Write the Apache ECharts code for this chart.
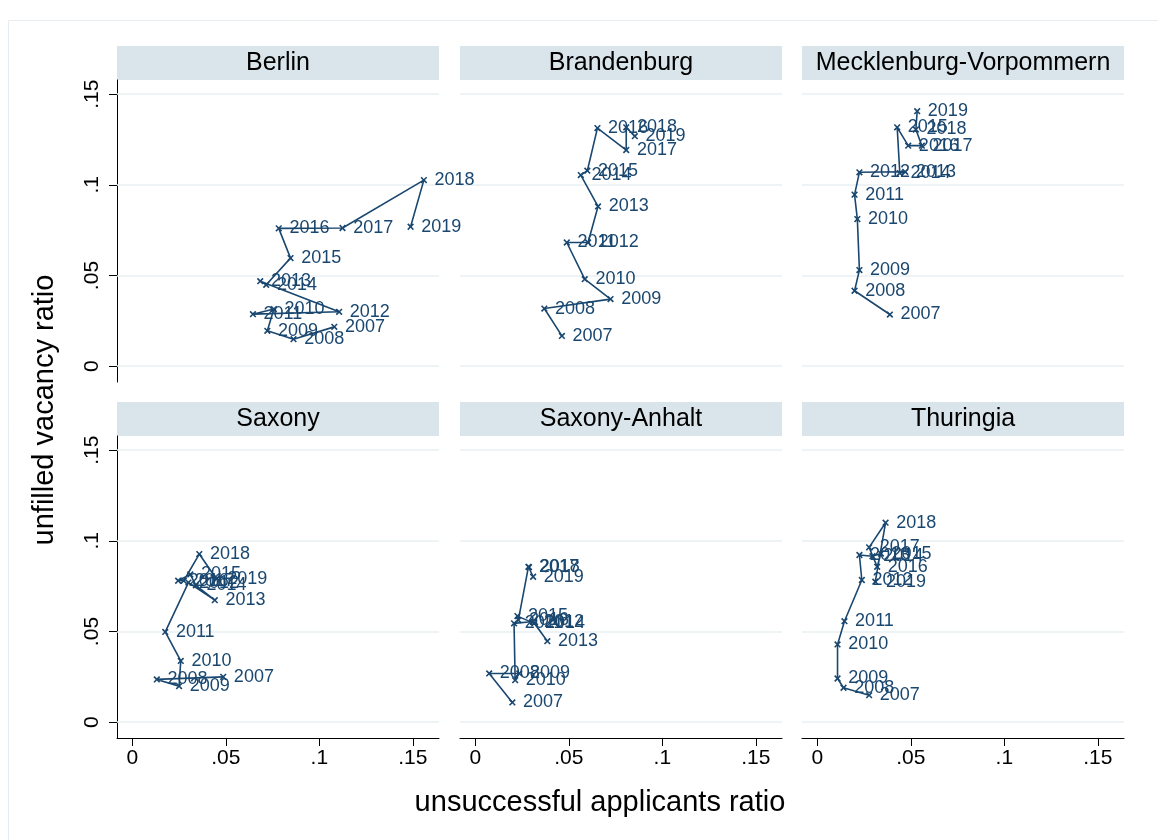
<!DOCTYPE html>
<html>
<head>
<meta charset="utf-8">
<script src="https://cdn.jsdelivr.net/npm/echarts@6/dist/echarts.min.js"></script>
<style>
  html, body { margin: 0; padding: 0; background: #fff; }
  #chart { width: 1158px; height: 840px; }
</style>
</head>
<body>
<div id="chart"></div>
<script>
// years used as point labels
const years = [2007, 2008, 2009, 2010, 2011, 2012, 2013, 2014, 2015, 2016, 2017, 2018, 2019];
const states = ['Berlin', 'Brandenburg', 'Mecklenburg-Vorpommern', 'Saxony', 'Saxony-Anhalt', 'Thuringia'];

// unsuccessful applicants ratio (x) / unfilled vacancy ratio (y)
const berlinX = [0.108, 0.0862, 0.0722, 0.0757, 0.0645, 0.1106, 0.0684, 0.0716, 0.0846, 0.0783, 0.1124, 0.1559, 0.1488];
const berlinY = [0.0217, 0.0149, 0.0195, 0.0315, 0.0287, 0.0300, 0.0469, 0.0449, 0.0596, 0.0760, 0.0762, 0.1026, 0.0769];

const brandenburgX = [0.0463, 0.0369, 0.0723, 0.0585, 0.0489, 0.0603, 0.0656, 0.0564, 0.0599, 0.0653, 0.0807, 0.0807, 0.0853];
const brandenburgY = [0.0167, 0.0318, 0.0370, 0.0480, 0.0682, 0.0682, 0.0881, 0.1054, 0.1078, 0.1313, 0.1192, 0.1317, 0.1268];

const mvX = [0.0388, 0.0199, 0.0225, 0.0214, 0.0199, 0.0225, 0.0470, 0.0441, 0.0427, 0.0486, 0.0559, 0.0527, 0.0534];
const mvY = [0.0285, 0.0416, 0.0530, 0.0811, 0.0946, 0.1069, 0.1072, 0.1065, 0.1317, 0.1216, 0.1216, 0.1305, 0.1406];

const saxonyX = [0.0486, 0.0131, 0.0250, 0.0259, 0.0176, 0.0300, 0.0441, 0.0340, 0.0310, 0.0245, 0.0275, 0.0358, 0.0450];
const saxonyY = [0.0250, 0.0236, 0.0199, 0.0338, 0.0498, 0.0770, 0.0673, 0.0755, 0.0815, 0.0780, 0.0780, 0.0927, 0.0790];

const anhaltX = [0.0198, 0.0074, 0.0235, 0.0213, 0.0207, 0.0310, 0.0385, 0.0315, 0.0225, 0.0230, 0.0284, 0.0287, 0.0309];
const anhaltY = [0.0109, 0.0269, 0.0269, 0.0232, 0.0545, 0.0555, 0.0447, 0.0545, 0.0585, 0.0563, 0.0857, 0.0855, 0.0802];

const thuringiaX = [0.0277, 0.0140, 0.0108, 0.0108, 0.0145, 0.0238, 0.0225, 0.0295, 0.0340, 0.0320, 0.0277, 0.0365, 0.0310];
const thuringiaY = [0.0149, 0.0190, 0.0241, 0.0429, 0.0557, 0.0784, 0.0922, 0.0915, 0.0930, 0.0857, 0.0964, 0.1100, 0.0775];

const xTicks = [0, 0.05, 0.1, 0.15];
const yTicks = [0, 0.05, 0.1, 0.15];

const allX = [berlinX, brandenburgX, mvX, saxonyX, anhaltX, thuringiaX];
const allY = [berlinY, brandenburgY, mvY, saxonyY, anhaltY, thuringiaY];

const navy = '#1a476f';
const font = '"Liberation Sans", Arial, Helvetica, sans-serif';
const colLeft = [117, 460, 802];
const rowTop = [80, 436];
const panelW = 322, panelH = 302;

// stata style tick text: 0, .05, .1, .15
function fmt(v) {
    if (v === 0) return '0';
    return String(v).replace(/^0/, '');
}

const grids = [], xAxes = [], yAxes = [], series = [], graphics = [];

// light frame of the graph region
graphics.push({
    type: 'rect', shape: {x: 8.5, y: 20.5, width: 1200, height: 900},
    style: {fill: 'none', stroke: '#e6ecef', lineWidth: 1}, silent: true
});

states.forEach((name, i) => {
    const col = i % 3, row = Math.floor(i / 3);
    const left = colLeft[col], top = rowTop[row];
    grids.push({left: left, top: top, width: panelW, height: panelH, containLabel: false});

    const bottomRow = row === 1;
    const firstCol = col === 0;
    xAxes.push({
        type: 'value', gridIndex: i, min: -0.0082, max: 0.164,
        axisLine: {show: bottomRow, onZero: false, lineStyle: {color: '#000', width: 1}},
        axisTick: {show: bottomRow, length: 8, customValues: xTicks, lineStyle: {color: '#000'}},
        axisLabel: {show: bottomRow, customValues: xTicks, formatter: fmt, fontSize: 21,
            fontFamily: font, color: '#000', margin: 10},
        splitLine: {show: false}
    });
    yAxes.push({
        type: 'value', gridIndex: i, min: -0.0087, max: 0.1578,
        axisLine: {show: firstCol, onZero: false, lineStyle: {color: '#000', width: 1}},
        axisTick: {show: firstCol, length: 8, customValues: yTicks, lineStyle: {color: '#000'}},
        axisLabel: {show: firstCol, customValues: yTicks, formatter: fmt, rotate: 90, fontSize: 21,
            fontFamily: font, color: '#000', margin: 14},
        splitLine: {show: false}
    });

    const xs = allX[i], ys = allY[i];
    series.push({
        type: 'line', xAxisIndex: i, yAxisIndex: i, z: 3,
        data: xs.map((x, k) => [x, ys[k], years[k]]),
        symbol: 'path://M4,0H6V4H10V6H6V10H4V6H0V4H4Z',
        symbolRotate: 45, symbolSize: 8, showAllSymbol: true,
        itemStyle: {color: navy},
        lineStyle: {color: navy, width: 1.6},
        label: {
            show: true, position: 'right', distance: 5,
            formatter: p => p.data[2],
            fontSize: 18, fontFamily: font, color: navy
        },
        labelLayout: {hideOverlap: false},
        emphasis: {disabled: true},
        animation: false,
        markLine: {
            silent: true, symbol: 'none', z: 1, animation: false,
            label: {show: false},
            lineStyle: {color: '#e8eff3', type: 'solid', width: 1.5},
            data: yTicks.map(v => ({yAxis: v}))
        }
    });

    // header strip
    graphics.push({
        type: 'rect', shape: {x: left, y: top - 34, width: panelW, height: 34},
        style: {fill: '#d9e4eb'}, silent: true
    });
    graphics.push({
        type: 'text', x: left + panelW / 2, y: top - 17,
        style: {text: name, fontSize: 25, fontFamily: font, fill: '#000',
            align: 'center', verticalAlign: 'middle'}, silent: true
    });
});

// axis titles
graphics.push({
    type: 'text', x: 600, y: 803,
    style: {text: 'unsuccessful applicants ratio', fontSize: 29, fontFamily: font, fill: '#000',
        align: 'center', verticalAlign: 'middle'}, silent: true
});
graphics.push({
    type: 'text', x: 45, y: 410, rotation: Math.PI / 2,
    style: {text: 'unfilled vacancy ratio', fontSize: 29, fontFamily: font, fill: '#000',
        align: 'center', verticalAlign: 'middle'}, silent: true
});

const chart = echarts.init(document.getElementById('chart'), null, {renderer: 'canvas'});
chart.setOption({
    backgroundColor: '#fff',
    animation: false,
    grid: grids,
    xAxis: xAxes,
    yAxis: yAxes,
    series: series,
    graphic: graphics
});
</script>
</body>
</html>
